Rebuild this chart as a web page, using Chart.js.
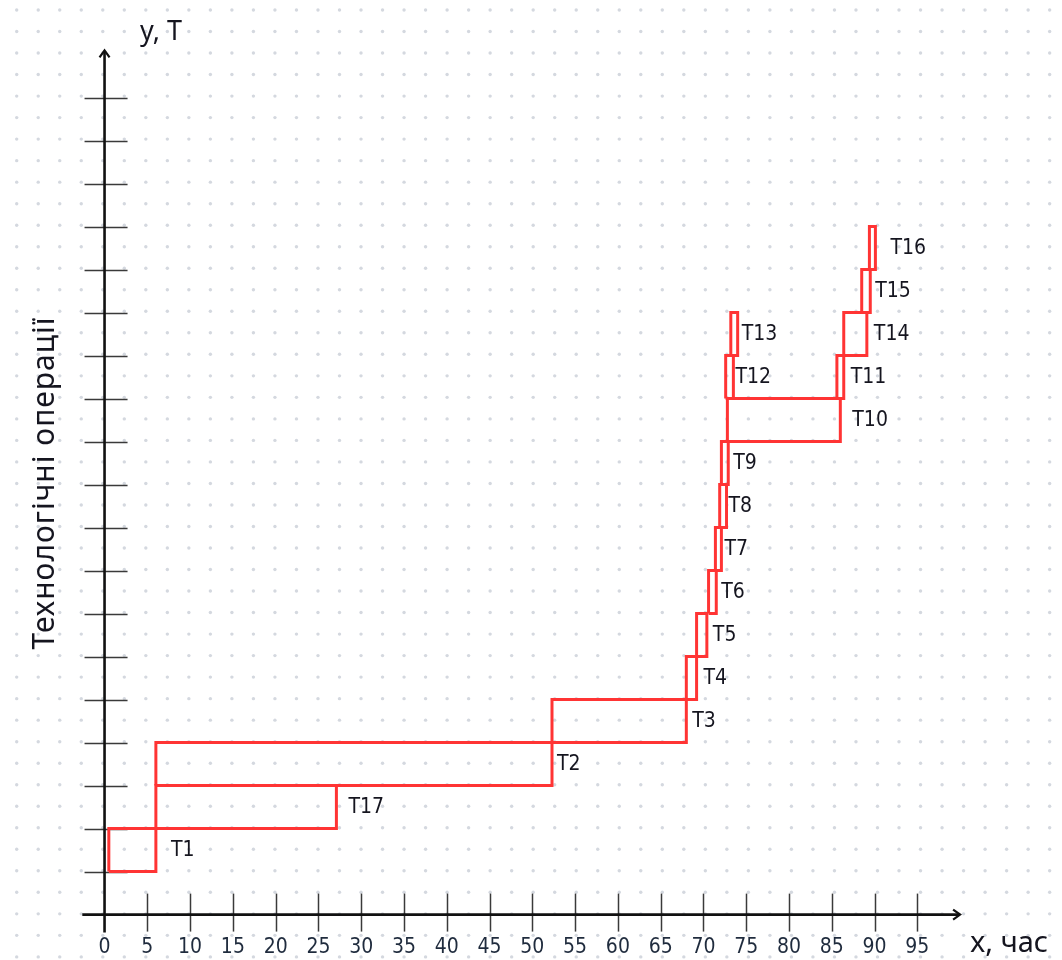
<!DOCTYPE html>
<html>
<head>
<meta charset="utf-8">
<script src="https://cdn.jsdelivr.net/npm/chart.js@4.4.1/dist/chart.umd.min.js"></script>
<style>
  html, body { margin: 0; padding: 0; background: #fff; }
</style>
</head>
<body>
<canvas id="chart" width="1062" height="960"></canvas>
<script>
// operations, the row each one sits in, and start / end time (hours)
const taskNames  = ['T1', 'T17', 'T2', 'T3', 'T4', 'T5', 'T6', 'T7', 'T8', 'T9', 'T10', 'T11', 'T12', 'T13', 'T14', 'T15', 'T16'];
const taskLevels = [1, 2, 3, 4, 5, 6, 7, 8, 9, 10, 11, 12, 12, 13, 13, 14, 15];
const taskStart  = [0.5, 6.0, 6.0, 52.3, 68.0, 69.2, 70.6, 71.4, 71.9, 72.1, 72.8, 85.6, 72.6, 73.2, 86.4, 88.5, 89.4];
const taskEnd    = [6.0, 27.1, 52.3, 68.0, 69.2, 70.4, 71.5, 72.1, 72.7, 72.9, 86.0, 86.4, 73.5, 74.0, 89.1, 89.5, 90.1];

const xTickValues = [0, 5, 10, 15, 20, 25, 30, 35, 40, 45, 50, 55, 60, 65, 70, 75, 80, 85, 90, 95];
const yTickLevels = [1, 2, 3, 4, 5, 6, 7, 8, 9, 10, 11, 12, 13, 14, 15, 16, 17, 18, 19];

// label placement (px) to the right of each box
const labelGap = [15, 12, 5, 6, 7, 6, 5, 3, 2, 5, 12, 7, 2, 4, 7, 5, 15];

const RED = '#ff3434';
const INK = '#15151f';
const NARROW = '"Liberation Sans Narrow", "DejaVu Sans Condensed", "Noto Sans"';

const datasets = taskNames.map((name, i) => {
    const s = taskStart[i], e = taskEnd[i], l = taskLevels[i];
    return {
        label: name,
        data: [
            { x: s, y: l }, { x: e, y: l }, { x: e, y: l + 1 }, { x: s, y: l + 1 }, { x: s, y: l }
        ],
        borderColor: RED,
        borderWidth: 3,
        borderJoinStyle: 'miter',
        pointRadius: 0,
        fill: false,
        tension: 0,
    };
});

const sketchAxes = {
    id: 'sketchAxes',
    beforeDraw(chart) {
        const { ctx, width, height } = chart;
        ctx.save();
        ctx.fillStyle = '#fff';
        ctx.fillRect(0, 0, width, height);
        // dotted paper
        ctx.fillStyle = '#d4d8df';
        for (let py = 10; py < height; py += 21.52) {
            for (let px = 16.7; px < width; px += 21.52) {
                ctx.beginPath();
                ctx.arc(px, py, 1.7, 0, Math.PI * 2);
                ctx.fill();
            }
        }
        ctx.restore();
    },
    beforeDatasetsDraw(chart) {
        const { ctx, chartArea: a, scales: { x, y } } = chart;
        const x0 = x.getPixelForValue(0), y0 = y.getPixelForValue(0);
        const seg = (x1, y1, x2, y2) => { ctx.beginPath(); ctx.moveTo(x1, y1); ctx.lineTo(x2, y2); ctx.stroke(); };
        ctx.save();
        ctx.strokeStyle = '#3a3a3a';
        ctx.lineWidth = 1.5;
        xTickValues.forEach(v => {
            if (v === 0) return;
            const px = Math.round(x.getPixelForValue(v)) + 0.5;
            seg(px, y0 - 21, px, y0 + 17);
        });
        yTickLevels.forEach(l => {
            const py = Math.round(y.getPixelForValue(l)) + 0.5;
            seg(x0 - 20, py, x0 + 23, py);
        });

        ctx.strokeStyle = '#111';
        ctx.lineWidth = 2.6;
        seg(a.left, y0, a.right - 1, y0);
        seg(x0, y0 + 18, x0, a.top + 1);
        // arrow heads
        ctx.lineWidth = 2.2;
        ctx.beginPath();
        ctx.moveTo(a.right - 7, y0 - 5); ctx.lineTo(a.right, y0); ctx.lineTo(a.right - 7, y0 + 5);
        ctx.stroke();
        ctx.beginPath();
        ctx.moveTo(x0 - 5, a.top + 7); ctx.lineTo(x0, a.top); ctx.lineTo(x0 + 5, a.top + 7);
        ctx.stroke();
        ctx.restore();
    },
    afterDatasetsDraw(chart) {
        const { ctx, scales: { x, y } } = chart;
        ctx.save();
        ctx.fillStyle = INK;
        ctx.font = '21px ' + NARROW;
        ctx.textBaseline = 'middle';
        ctx.textAlign = 'left';
        taskNames.forEach((name, i) => {
            const px = x.getPixelForValue(taskEnd[i]) + labelGap[i];
            const py = y.getPixelForValue(taskLevels[i] + 0.5);
            ctx.fillText(name, px, py);
        });

        // axis titles
        ctx.font = '27px "Noto Sans"';
        ctx.textAlign = 'center';
        ctx.fillText('y, T', 161, 32);
        ctx.textAlign = 'left';
        ctx.font = '29px "Noto Sans"';
        ctx.fillText('x, час', 970, 944);

        ctx.translate(54, 483);
        ctx.rotate(-Math.PI / 2);
        ctx.textAlign = 'center';
        ctx.textBaseline = 'alphabetic';
        ctx.font = '30px "Noto Sans"';
        ctx.letterSpacing = '1px';
        ctx.fillText('Технологічні операції', 0, 0);
        ctx.restore();
    }
};

new Chart(document.getElementById('chart'), {
    type: 'line',
    data: { datasets },
    options: {
        responsive: false,
        animation: false,
        events: [],
        layout: { padding: { left: 82.3, right: 101.9, top: 50.3, bottom: 0 } },
        plugins: {
            legend: { display: false },
            tooltip: { enabled: false },
        },
        scales: {
            x: {
                type: 'linear',
                min: -2.6,
                max: 100,
                afterBuildTicks: (scale) => {
                    scale.ticks = xTickValues.map(v => ({ value: v }));
                },
                grid: { display: false, drawTicks: false },
                border: { display: false },
                ticks: {
                    autoSkip: false,
                    maxRotation: 0,
                    padding: 0,
                    color: '#1f2b3d',
                    font: { family: NARROW, size: 21 },
                    callback: (value) => String(value),
                },
            },
            y: {
                type: 'linear',
                display: false,
                min: -0.47,
                max: 20.1,
            },
        },
    },
    plugins: [sketchAxes],
});
</script>
</body>
</html>
